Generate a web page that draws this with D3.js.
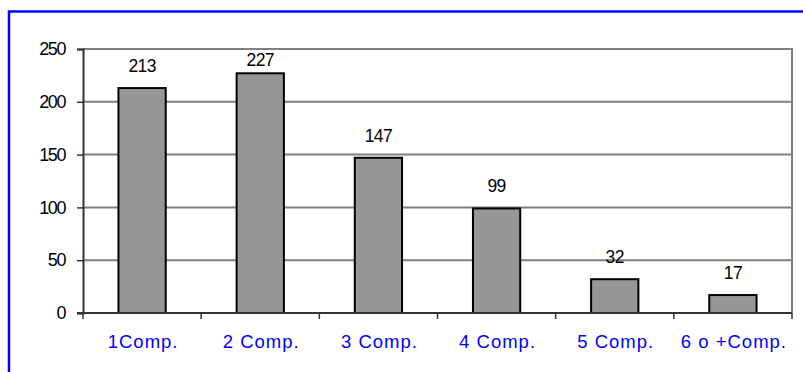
<!DOCTYPE html>
<html>
<head>
<meta charset="utf-8">
<script src="https://cdn.jsdelivr.net/npm/d3@7"></script>
<style>
  html, body { margin: 0; padding: 0; background: #fff; }
  svg { display: block; font-family: Arial, "Liberation Sans", sans-serif; }
</style>
</head>
<body>
<svg id="chart" width="803" height="372"></svg>
<script>
// Number of companions per case
const categories = ["1Comp.", "2 Comp.", "3 Comp.", "4 Comp.", "5 Comp.", "6 o +Comp."];
const counts = [213, 227, 147, 99, 32, 17];
const yTicks = [0, 50, 100, 150, 200, 250];

const W = 803, H = 372;
const plot = { left: 83, right: 792, top: 49, bottom: 313 };

const svg = d3.select("#chart");

// Outer frame (only its top and left edges fall inside the view)
svg.append("rect")
  .attr("x", 9).attr("y", 11.5)
  .attr("width", W + 20).attr("height", H + 20)
  .attr("fill", "none").attr("stroke", "#0000ff").attr("stroke-width", 2.5);

const x = d3.scaleBand()
  .domain(categories)
  .range([plot.left, plot.right])
  .paddingInner(0.6).paddingOuter(0.3);

const xBoundaries = d3.scaleLinear().domain([0, categories.length]).range([plot.left, plot.right]);

const y = d3.scaleLinear().domain([0, 250]).range([plot.bottom, plot.top]);

// Horizontal gridlines
svg.append("g")
  .selectAll("line")
  .data(yTicks.filter(t => t > 0))
  .join("line")
  .attr("x1", plot.left).attr("x2", plot.right)
  .attr("y1", d => y(d)).attr("y2", d => y(d))
  .attr("stroke", "#808080").attr("stroke-width", 2);

// Right edge of the plot area
svg.append("line")
  .attr("x1", plot.right).attr("x2", plot.right)
  .attr("y1", plot.top - 1).attr("y2", plot.bottom)
  .attr("stroke", "#808080").attr("stroke-width", 2);

// Bars
svg.append("g")
  .selectAll("rect")
  .data(counts)
  .join("rect")
  .attr("x", (d, i) => x(categories[i]))
  .attr("width", x.bandwidth())
  .attr("y", d => y(d))
  .attr("height", d => y(0) - y(d))
  .attr("fill", "#969696")
  .attr("stroke", "#000")
  .attr("stroke-width", 2);

// Value labels above bars, kept inside the plot area
svg.append("g")
  .selectAll("text")
  .data(counts)
  .join("text")
  .attr("x", (d, i) => x(categories[i]) + x.bandwidth() / 2)
  .attr("y", d => Math.max(y(d) - 16, plot.top + 17))
  .attr("text-anchor", "middle")
  .attr("font-size", "17.5px")
  .attr("letter-spacing", "-0.6px")
  .attr("fill", "#000")
  .text(d => d);

// Y axis
const yAxis = d3.axisLeft(y).tickValues(yTicks).tickSize(6).tickPadding(12);
const gy = svg.append("g").attr("transform", `translate(${plot.left},0)`).call(yAxis);
gy.select(".domain").attr("stroke", "#333").attr("stroke-width", 2);
gy.selectAll(".tick line").attr("stroke", "#333").attr("stroke-width", 1.5);
gy.selectAll(".tick text")
  .attr("font-size", "18px")
  .attr("letter-spacing", "-1.4px")
  .attr("fill", "#000")
  .attr("font-family", "Arial, 'Liberation Sans', sans-serif");

// X axis baseline and category separators
svg.append("line")
  .attr("x1", plot.left - 6).attr("x2", plot.right)
  .attr("y1", plot.bottom).attr("y2", plot.bottom)
  .attr("stroke", "#333").attr("stroke-width", 2);

svg.append("g")
  .selectAll("line")
  .data(d3.range(categories.length + 1))
  .join("line")
  .attr("x1", d => xBoundaries(d)).attr("x2", d => xBoundaries(d))
  .attr("y1", plot.bottom).attr("y2", plot.bottom + 6)
  .attr("stroke", "#333").attr("stroke-width", 1.5);

// Category labels
svg.append("g")
  .selectAll("text")
  .data(categories)
  .join("text")
  .attr("x", d => x(d) + x.bandwidth() / 2 + 1)
  .attr("y", 347.5)
  .attr("text-anchor", "middle")
  .attr("font-size", "18.5px")
  .attr("letter-spacing", "1px")
  .attr("fill", "#0000ff")
  .text(d => d);
</script>
</body>
</html>
